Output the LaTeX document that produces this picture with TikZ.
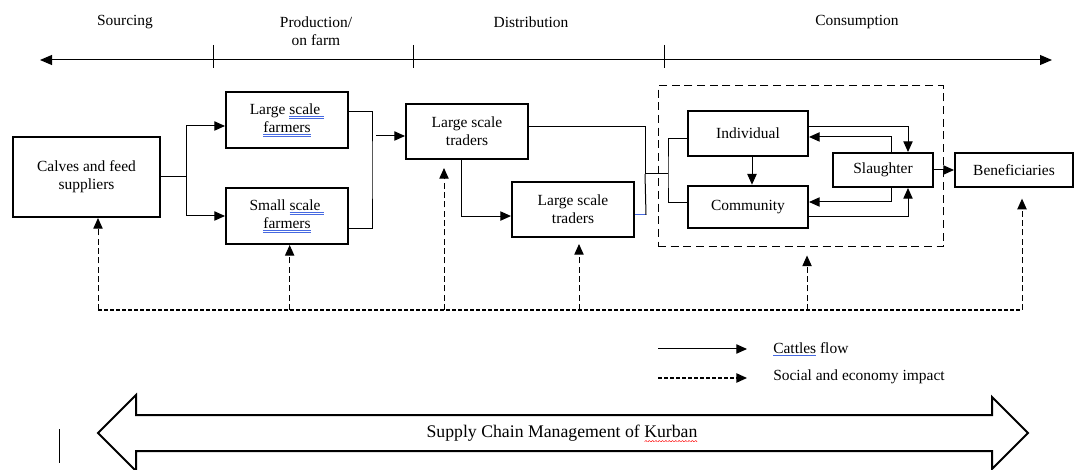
\documentclass[tikz,border=0pt]{standalone}
\usepackage{fontspec}
\setmainfont{Liberation Serif}
\usetikzlibrary{arrows.meta}

\definecolor{gramblue}{RGB}{70,105,225}
\newsavebox\markbox
\newcommand\gramline[1]{\sbox\markbox{#1}\rlap{\usebox\markbox}\textcolor{gramblue}{\rlap{\rule[-0.25ex]{\wd\markbox}{0.45pt}}\rule[-0.5ex]{\wd\markbox}{0.45pt}}}
\newcommand\spellline[1]{\sbox\markbox{#1}\rlap{\usebox\markbox}\textcolor{gramblue}{\rule[-0.35ex]{\wd\markbox}{0.5pt}}}
\newcommand\wavebit{\rotatebox{45}{\rule{1.5pt}{0.35pt}}\kern-0.25pt\raisebox{1.06pt}{\rotatebox{-45}{\rule{1.5pt}{0.35pt}}}}
\newcommand\spellwave[1]{\sbox\markbox{#1}\rlap{\usebox\markbox}\textcolor{red}{\raisebox{-3.5pt}[0pt][0pt]{\hbox to\wd\markbox{\xleaders\hbox{\wavebit}\hfil}}}}

\begin{document}
\begin{tikzpicture}[
	x=0.75pt, y=-0.75pt,
	every node/.append style = {font=\fontsize{11.6}{13.5}\selectfont, align=center, inner sep=0pt},
	box/.style = {draw, line width=1.5pt},
	flow/.style = {-{Triangle[length=8pt,width=7pt]}, line width=0.75pt},
	impact/.style = {flow, dash pattern=on 4.5pt off 2.5pt},
	baseline/.style = {line width=1.1pt, dash pattern=on 3pt off 1.5pt}
]
\useasboundingbox (0,0) rectangle (1075,470);

% stages
\draw[{Triangle[length=9pt,width=7.5pt]}-{Triangle[length=9pt,width=7.5pt]}, line width=0.75pt] (40,60) -- (1052,60);
\foreach \x in {213,413,664}
	\draw[line width=0.75pt] (\x,45) -- (\x,68);
\node (sourcing) at (125,22) {Sourcing};
\node (production) at (316,31) {Production/\\on farm};
\node (distribution) at (531,22) {Distribution};
\node (consumption) at (857,22) {Consumption};

% actors
\node[box, minimum width=110.25pt, minimum height=60pt] (calves) at (86.5,177) {Calves and feed\\suppliers};
\node[box, minimum width=91.5pt, minimum height=42pt] (lfarm) at (287,120) {Large \gramline{scale~}\\\gramline{farmers}};
\node[box, minimum width=91.5pt, minimum height=42pt] (sfarm) at (287,216) {Small \gramline{scale~}\\\gramline{farmers}};
\node[box, minimum width=91.5pt, minimum height=41.25pt] (trader1) at (467,131.5) {Large scale\\traders};
\node[box, minimum width=91.5pt, minimum height=41.25pt] (trader2) at (573,209.5) {Large scale\\traders};
\node[draw, line width=0.75pt, dash pattern=on 6pt off 3.5pt, minimum width=213.75pt, minimum height=120.75pt] (cons) at (800.5,166.5) {};
\node[box, minimum width=90pt, minimum height=33.75pt] (indiv) at (748,133.5) {Individual};
\node[box, minimum width=90pt, minimum height=32pt] (comm) at (748,207) {Community};
\node[box, minimum width=75pt, minimum height=25.5pt] (slaughter) at (883,170) {Slaughter};
\node[box, minimum width=88.5pt, minimum height=25.5pt] (benef) at (1014,170) {Beneficiaries};

% cattle flow
\coordinate (fork1) at (186,177);
\coordinate (join1) at (372,170);
\coordinate (farmout) at (376,136);
\coordinate (join2) at (645,174);
\coordinate (fork2) at (668,174);
\draw[line width=0.75pt] (calves.east) -- (fork1);
\draw[flow] (fork1) |- ([yshift=-4.5pt]lfarm.west);
\draw[flow] (fork1) |- (sfarm.west);
\draw[line width=0.75pt] ([yshift=6pt]lfarm.east) -| (join1) |- ([yshift=-9.75pt]sfarm.east);
\draw[flow] (farmout) -- (farmout -| trader1.west);
\draw[flow] ([xshift=-4.5pt]trader1.south) |- ([yshift=-4.9pt]trader2.west);
\draw[line width=0.75pt] ([yshift=4.1pt]trader1.east) -| (join2) -- (fork2);
\draw[gramblue, line width=0.75pt] ([yshift=-4.1pt]trader2.east) -- ++(8.25pt,0) coordinate (t2out);
\draw[line width=0.75pt] (join2) -- (t2out);
\draw[line width=0.75pt] ([yshift=-4.1pt]indiv.west) -| (fork2) |- ([yshift=3pt]comm.west);
\draw[flow] ([xshift=3pt]indiv.south) -- ([xshift=3pt]comm.north);
\draw[flow] ([yshift=5.6pt]indiv.east) -| ([xshift=18.75pt]slaughter.north);
\draw[flow] ([xshift=6pt]slaughter.north) |- ([yshift=-2.6pt]indiv.east);
\draw[flow] ([xshift=6pt]slaughter.south) |- ([yshift=3.75pt]comm.east);
\draw[flow] ([yshift=-7.5pt]comm.east) -| ([xshift=18.75pt]slaughter.south);
\draw[flow] (slaughter) -- (benef);

% social and economy impact
\coordinate (fbL) at (98,310);
\coordinate (fbR) at (1022,310);
\draw[baseline] (fbL) -- (fbR);
\draw[impact] (fbL) -- (fbL |- calves.south);
\draw[impact] ([xshift=2pt]sfarm.south |- fbL) -- ([xshift=2pt]sfarm.south);
\draw[impact] ([xshift=-17.25pt]trader1.south |- fbL) -- ([xshift=-17.25pt,yshift=-6pt]trader1.south);
\draw[impact] ([xshift=4.5pt]trader2.south |- fbL) -- ([xshift=4.5pt,yshift=-4.5pt]trader2.south);
\draw[impact] ([xshift=4.9pt]cons.south |- fbL) -- ([xshift=4.9pt,yshift=-6pt]cons.south);
\draw[impact] (fbR) -- ([yshift=-8pt]fbR |- benef.south);

% legend
\coordinate (lg1) at (658,349);
\coordinate (lg2) at (658,378);
\draw[flow] (lg1) -- ++(89,0);
\draw[flow, line width=1.1pt, dash pattern=on 3pt off 1.5pt] (lg2) -- ++(89,0);
\node[anchor=west] (lgflow) at (773,349) {\spellline{Cattles} flow};
\node[anchor=west] (lgimpact) at (773,377) {Social and economy impact};

% supply chain
\draw[line width=1.5pt, line join=miter] (98,433) -- (136,395) -- (136,415) -- (992,415) -- (992,397) -- (1028,433)
	-- (992,469) -- (992,451) -- (136,451) -- (136,471) -- cycle;
\node[font=\fontsize{13.3}{15}\selectfont] (scm) at (562,433) {Supply Chain Management of \spellwave{Kurban}};
\draw[line width=0.75pt] (59,429) -- (59,463);

\end{tikzpicture}
\end{document}
